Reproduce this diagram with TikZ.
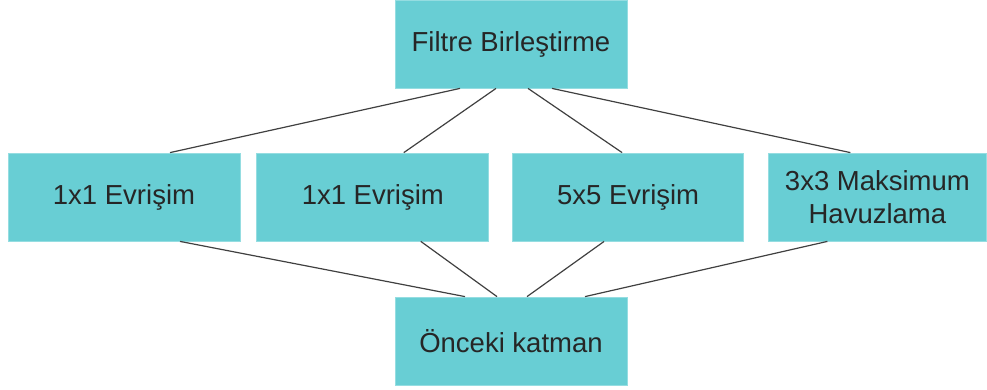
\documentclass[tikz,border=0pt]{standalone}
\usepackage{fontspec}
\setmainfont{Liberation Sans}
\usetikzlibrary{positioning}
\definecolor{boxteal}{RGB}{104,206,212}
\tikzset{
  block/.style={rectangle, fill=boxteal, draw=boxteal!70!white, line width=0.8pt,
    minimum width=232pt, minimum height=88pt, inner sep=0pt,
    text=black!85, align=center, font=\fontsize{27.5}{33}\selectfont},
  link/.style={draw=black!75, line width=1.2pt},
}

\begin{document}
\begin{tikzpicture}[x=1pt, y=-1pt]
  \useasboundingbox (0,0) rectangle (987,389);

  % top, middle row, bottom
  \node[block] (concat) at (511,44) {Filtre Birleştirme};
  \node[block] (convA) at (124,197) {1x1 Evrişim};
  \node[block, right=16pt of convA] (convB) {1x1 Evrişim};
  \node[block, minimum width=231pt, right=23pt of convB] (convC) {5x5 Evrişim};
  \node[block, minimum width=218pt, right=24pt of convC] (pool) {3x3 Maksimum\\Havuzlama};
  \node[block] (prev) at (511,341) {Önceki katman};

  % links up to the concatenation
  \draw[link] ([xshift=-51pt]concat.south) -- ([xshift=46pt]convA.north);
  \draw[link] ([xshift=-15pt]concat.south) -- ([xshift=31pt]convB.north);
  \draw[link] ([xshift=17pt]concat.south) -- ([xshift=-6pt]convC.north);
  \draw[link] ([xshift=41pt]concat.south) -- ([xshift=-27pt]pool.north);

  % links down to the previous layer
  \draw[link] ([xshift=56pt]convA.south) -- ([xshift=-46pt]prev.north);
  \draw[link] ([xshift=48pt]convB.south) -- ([xshift=-14pt]prev.north);
  \draw[link] ([xshift=-24pt]convC.south) -- ([xshift=16pt]prev.north);
  \draw[link] ([xshift=-50pt]pool.south) -- ([xshift=74pt]prev.north);

\end{tikzpicture}
\end{document}
